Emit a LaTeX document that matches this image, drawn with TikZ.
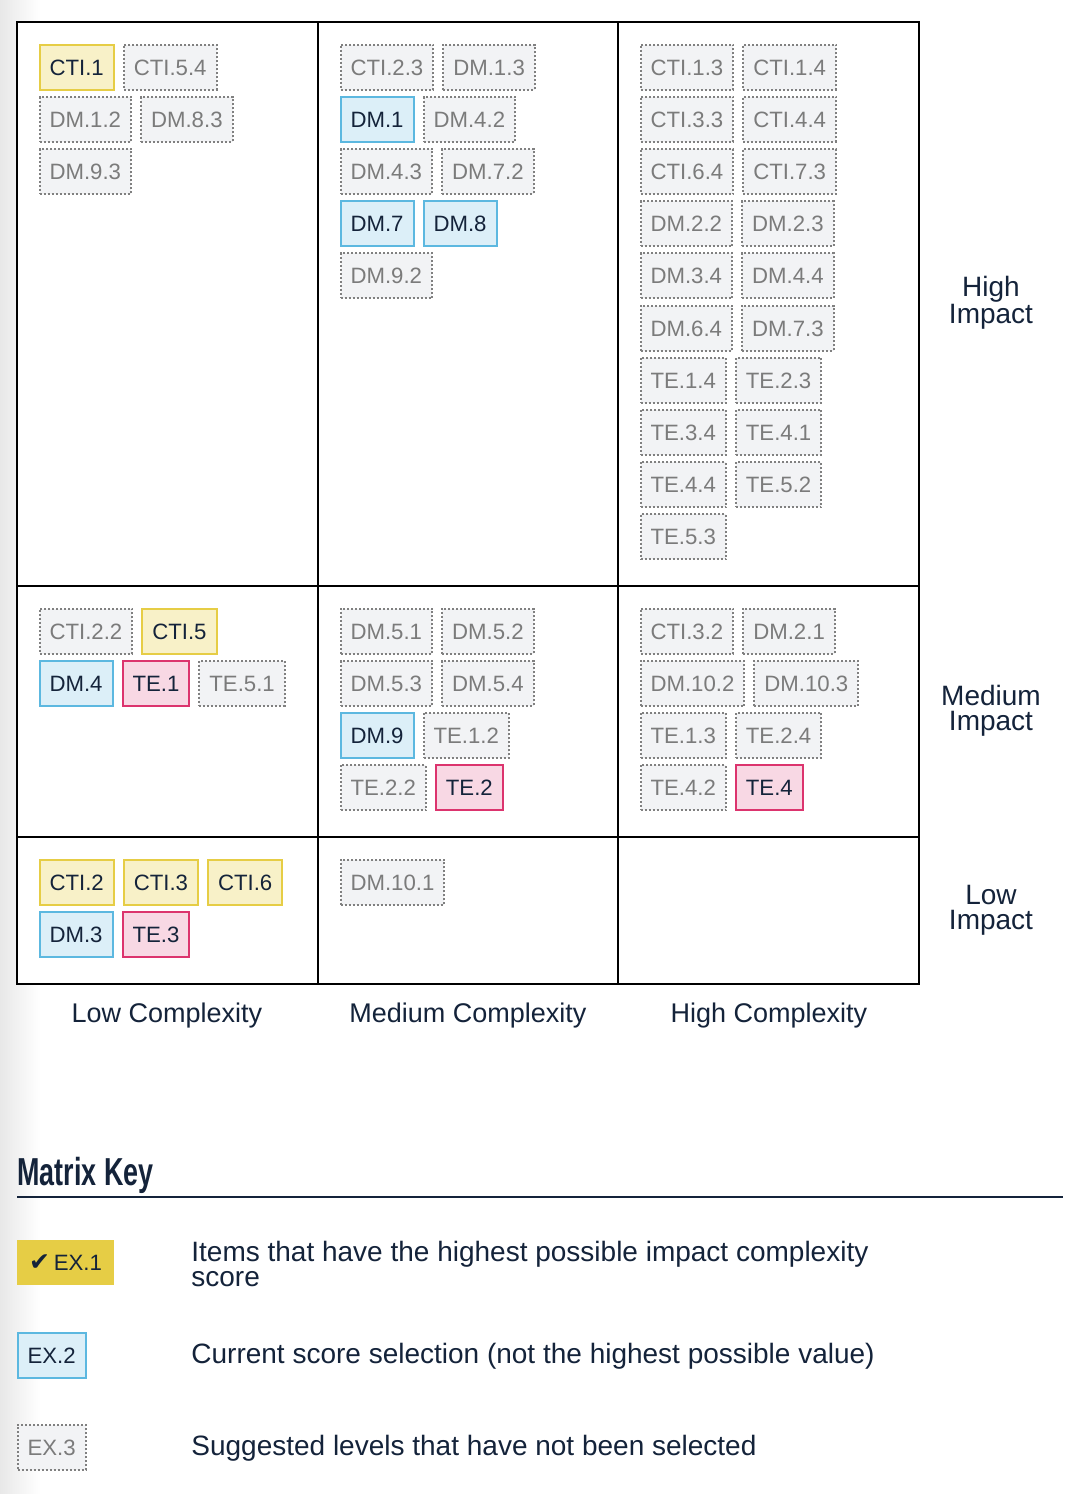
\documentclass[tikz,border=0pt]{standalone}
\usepackage{fontspec}
\usepackage{graphicx}
\setmainfont{Liberation Sans}
\newfontfamily\symfont{DejaVu Sans}
\usetikzlibrary{positioning}
\definecolor{navy}{HTML}{14233A}
\definecolor{bestfill}{HTML}{F8F1C8}
\definecolor{bestdraw}{HTML}{E6CD45}
\definecolor{curfill}{HTML}{DCEFF8}
\definecolor{curdraw}{HTML}{5CB8E0}
\definecolor{techfill}{HTML}{F8D8E4}
\definecolor{techdraw}{HTML}{DC346E}
\definecolor{suggfill}{HTML}{F2F3F5}
\definecolor{suggdraw}{HTML}{808080}
\definecolor{suggtext}{HTML}{7B7B7B}

\begin{document}
\begin{tikzpicture}[x=0.5pt, y=-0.5pt,
    chip/.style={rectangle, line width=1pt, minimum height=22.5pt, inner xsep=5pt, inner ysep=0pt,
        text height=8.1pt, text depth=0pt, font=\fontsize{11.1}{13}\selectfont},
    best/.style={chip, draw=bestdraw, fill=bestfill, text=navy},
    cur/.style={chip, draw=curdraw, fill=curfill, text=navy},
    tech/.style={chip, draw=techdraw, fill=techfill, text=navy},
    sugg/.style={chip, draw=suggdraw, fill=suggfill, text=suggtext, dash pattern=on 1pt off 1pt},
    axis/.style={text=navy, align=center, font=\fontsize{13.5}{12}\selectfont},
    level/.style={text=navy, align=center, font=\fontsize{14}{12.5}\selectfont},
    keytext/.style={text=navy, anchor=west, align=left, inner sep=0pt, font=\fontsize{14}{12.5}\selectfont}]

    % Page background with the light fade on the left edge
    \fill[white] (0,0) rectangle (1080,1494);
    \useasboundingbox (0,0) rectangle (1080,1494);
    \shade[left color=black!9, right color=white] (0,0) rectangle (40,1494);

    % Matrix grid: 3 columns, 3 rows
    \draw[line width=1pt, fill=white] (17,22) rectangle (919,984);
    \draw[line width=1pt] (318,22) -- (318,984);
    \draw[line width=1pt] (618,22) -- (618,984);
    \draw[line width=1pt] (17,586) -- (919,586);
    \draw[line width=1pt] (17,837) -- (919,837);

    % High impact, low complexity
    \node[best, anchor=north west] (cti1) at (38.5,43.5) {CTI.1};
    \node[sugg, right=4pt of cti1] (cti54) {CTI.5.4};
    \node[sugg, anchor=north west] (dm12) at (38.5,95.7) {DM.1.2};
    \node[sugg, right=4pt of dm12] (dm83) {DM.8.3};
    \node[sugg, anchor=north west] (dm93) at (38.5,147.9) {DM.9.3};

    % High impact, medium complexity
    \node[sugg, anchor=north west] (cti23) at (339.5,43.5) {CTI.2.3};
    \node[sugg, right=4pt of cti23] (dm13) {DM.1.3};
    \node[cur, anchor=north west] (dm1) at (339.5,95.7) {DM.1};
    \node[sugg, right=4pt of dm1] (dm42) {DM.4.2};
    \node[sugg, anchor=north west] (dm43) at (339.5,147.9) {DM.4.3};
    \node[sugg, right=4pt of dm43] (dm72) {DM.7.2};
    \node[cur, anchor=north west] (dm7) at (339.5,200.1) {DM.7};
    \node[cur, right=4pt of dm7] (dm8) {DM.8};
    \node[sugg, anchor=north west] (dm92) at (339.5,252.3) {DM.9.2};

    % High impact, high complexity
    \node[sugg, anchor=north west] (cti13) at (639.5,43.5) {CTI.1.3};
    \node[sugg, right=4pt of cti13] (cti14) {CTI.1.4};
    \node[sugg, anchor=north west] (cti33) at (639.5,95.7) {CTI.3.3};
    \node[sugg, right=4pt of cti33] (cti44) {CTI.4.4};
    \node[sugg, anchor=north west] (cti64) at (639.5,147.9) {CTI.6.4};
    \node[sugg, right=4pt of cti64] (cti73) {CTI.7.3};
    \node[sugg, anchor=north west] (dm22) at (639.5,200.1) {DM.2.2};
    \node[sugg, right=4pt of dm22] (dm23) {DM.2.3};
    \node[sugg, anchor=north west] (dm34) at (639.5,252.3) {DM.3.4};
    \node[sugg, right=4pt of dm34] (dm44) {DM.4.4};
    \node[sugg, anchor=north west] (dm64) at (639.5,304.5) {DM.6.4};
    \node[sugg, right=4pt of dm64] (dm73) {DM.7.3};
    \node[sugg, anchor=north west] (te14) at (639.5,356.7) {TE.1.4};
    \node[sugg, right=4pt of te14] (te23) {TE.2.3};
    \node[sugg, anchor=north west] (te34) at (639.5,408.9) {TE.3.4};
    \node[sugg, right=4pt of te34] (te41) {TE.4.1};
    \node[sugg, anchor=north west] (te44) at (639.5,461.1) {TE.4.4};
    \node[sugg, right=4pt of te44] (te52) {TE.5.2};
    \node[sugg, anchor=north west] (te53) at (639.5,513.3) {TE.5.3};

    % Medium impact, low complexity
    \node[sugg, anchor=north west] (cti22) at (38.5,607.5) {CTI.2.2};
    \node[best, right=4pt of cti22] (cti5) {CTI.5};
    \node[cur, anchor=north west] (dm4) at (38.5,659.7) {DM.4};
    \node[tech, right=4pt of dm4] (te1) {TE.1};
    \node[sugg, right=4pt of te1] (te51) {TE.5.1};

    % Medium impact, medium complexity
    \node[sugg, anchor=north west] (dm51) at (339.5,607.5) {DM.5.1};
    \node[sugg, right=4pt of dm51] (dm52) {DM.5.2};
    \node[sugg, anchor=north west] (dm53) at (339.5,659.7) {DM.5.3};
    \node[sugg, right=4pt of dm53] (dm54) {DM.5.4};
    \node[cur, anchor=north west] (dm9) at (339.5,711.9) {DM.9};
    \node[sugg, right=4pt of dm9] (te12) {TE.1.2};
    \node[sugg, anchor=north west] (te22) at (339.5,764.1) {TE.2.2};
    \node[tech, right=4pt of te22] (te2) {TE.2};

    % Medium impact, high complexity
    \node[sugg, anchor=north west] (cti32) at (639.5,607.5) {CTI.3.2};
    \node[sugg, right=4pt of cti32] (dm21) {DM.2.1};
    \node[sugg, anchor=north west] (dm102) at (639.5,659.7) {DM.10.2};
    \node[sugg, right=4pt of dm102] (dm103) {DM.10.3};
    \node[sugg, anchor=north west] (te13) at (639.5,711.9) {TE.1.3};
    \node[sugg, right=4pt of te13] (te24) {TE.2.4};
    \node[sugg, anchor=north west] (te42) at (639.5,764.1) {TE.4.2};
    \node[tech, right=4pt of te42] (te4) {TE.4};

    % Low impact, low complexity
    \node[best, anchor=north west] (cti2) at (38.5,858.5) {CTI.2};
    \node[best, right=4pt of cti2] (cti3) {CTI.3};
    \node[best, right=4pt of cti3] (cti6) {CTI.6};
    \node[cur, anchor=north west] (dm3) at (38.5,910.7) {DM.3};
    \node[tech, right=4pt of dm3] (te3) {TE.3};

    % Low impact, medium complexity
    \node[sugg, anchor=north west] (dm101) at (339.5,858.5) {DM.10.1};

    % Impact labels on the right
    \node[level] (hiimp) at (991,303) {High\\Impact};
    \node[level] (medimp) at (991,711) {Medium\\Impact};
    \node[level] (lowimp) at (991,910) {Low\\Impact};

    % Complexity labels below
    \node[axis] (locx) at (167,1016) {Low Complexity};
    \node[axis] (medcx) at (468,1016) {Medium Complexity};
    \node[axis] (hicx) at (769,1016) {High Complexity};

    % Matrix key
    \node[anchor=base west, inner sep=0pt, text=navy] (keyhead) at (17,1185)
        {\scalebox{0.69}[1]{\fontsize{19.5}{20}\selectfont\bfseries Matrix Key}};
    \draw[navy, line width=1pt] (17,1197) -- (1063,1197);

    \node[chip, fill=bestdraw, text=navy, minimum width=48.5pt, anchor=north west] (ex1) at (16,1239)
        {{\symfont\bfseries\fontsize{12.5}{13}\selectfont ✔}\,EX.1};
    \node[keytext] (ex1txt) at (191,1264) {Items that have the highest possible impact complexity\\score};

    \node[cur, anchor=north west] (ex2) at (16.5,1331.5) {EX.2};
    \node[keytext] (ex2txt) at (191,1356) {Current score selection (not the highest possible value)};

    \node[sugg, anchor=north west] (ex3) at (16.5,1423.5) {EX.3};
    \node[keytext] (ex3txt) at (191,1448) {Suggested levels that have not been selected};

\end{tikzpicture}
\end{document}
